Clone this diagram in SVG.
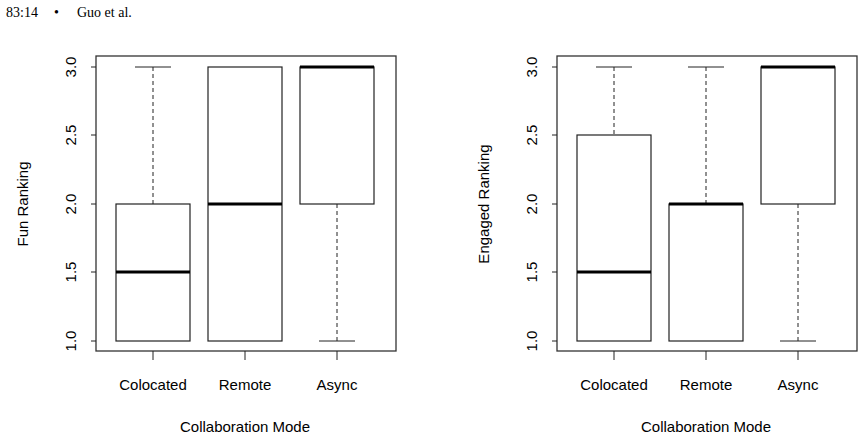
<svg xmlns="http://www.w3.org/2000/svg" width="863" height="441" viewBox="0 0 863 441">
<style>
text{font-family:"Liberation Sans",Arial,sans-serif;font-size:15px;fill:#000}
.h{font-family:"Liberation Serif",serif;font-size:14px}
.f{fill:none;stroke:#333;stroke-width:1.3}
.b{fill:#fff;stroke:#222;stroke-width:1.2}
.m{stroke:#000;stroke-width:3}
.w{stroke:#222;stroke-width:1;stroke-dasharray:4,3}
.c{stroke:#222;stroke-width:1}
.t{text-anchor:middle}
</style>
<rect width="863" height="441" fill="#fff"/>
<text class="h" x="6" y="17">83:14</text><text class="h" x="54" y="17">•</text><text class="h" x="77" y="17">Guo et al.</text>
<defs>
<g id="axes">
<rect class="f" x="96" y="56" width="300" height="295"/>
<g class="c"><line x1="91" y1="67" x2="96" y2="67"/><line x1="91" y1="135" x2="96" y2="135"/><line x1="91" y1="204" x2="96" y2="204"/><line x1="91" y1="272" x2="96" y2="272"/><line x1="91" y1="341" x2="96" y2="341"/>
<line x1="153" y1="351" x2="153" y2="360"/><line x1="245" y1="351" x2="245" y2="360"/><line x1="337" y1="351" x2="337" y2="360"/></g>
<text class="t" transform="translate(76,67) rotate(-90)">3.0</text>
<text class="t" transform="translate(76,135) rotate(-90)">2.5</text>
<text class="t" transform="translate(76,204) rotate(-90)">2.0</text>
<text class="t" transform="translate(76,272) rotate(-90)">1.5</text>
<text class="t" transform="translate(76,341) rotate(-90)">1.0</text>
<text class="t" x="153" y="390">Colocated</text><text class="t" x="245" y="390">Remote</text><text class="t" x="337" y="390">Async</text>
<text class="t" x="245" y="432">Collaboration Mode</text>
</g>
</defs>
<g id="plot-fun">
<use href="#axes"/>
<text class="t" transform="translate(28,204) rotate(-90)">Fun Ranking</text>
<g id="fun-colocated"><line class="w" x1="153" y1="67" x2="153" y2="204"/><line class="c" x1="135" y1="67" x2="171" y2="67"/><rect class="b" x="116" y="204" width="74" height="137"/><line class="m" x1="116" y1="272" x2="190" y2="272"/></g>
<g id="fun-remote"><rect class="b" x="208" y="67" width="74" height="274"/><line class="m" x1="208" y1="204" x2="282" y2="204"/></g>
<g id="fun-async"><line class="w" x1="337" y1="204" x2="337" y2="341"/><line class="c" x1="319" y1="341" x2="355" y2="341"/><rect class="b" x="300" y="67" width="74" height="137"/><line class="m" x1="300" y1="67" x2="374" y2="67"/></g>
</g>
<g id="plot-engaged" transform="translate(461,0)">
<use href="#axes"/>
<text class="t" transform="translate(28,204) rotate(-90)">Engaged Ranking</text>
<g id="eng-colocated"><line class="w" x1="153" y1="67" x2="153" y2="135"/><line class="c" x1="135" y1="67" x2="171" y2="67"/><rect class="b" x="116" y="135" width="74" height="206"/><line class="m" x1="116" y1="272" x2="190" y2="272"/></g>
<g id="eng-remote"><line class="w" x1="245" y1="67" x2="245" y2="204"/><line class="c" x1="227" y1="67" x2="263" y2="67"/><rect class="b" x="208" y="204" width="74" height="137"/><line class="m" x1="208" y1="204" x2="282" y2="204"/></g>
<g id="eng-async"><line class="w" x1="337" y1="204" x2="337" y2="341"/><line class="c" x1="319" y1="341" x2="355" y2="341"/><rect class="b" x="300" y="67" width="74" height="137"/><line class="m" x1="300" y1="67" x2="374" y2="67"/></g>
</g>
</svg>
